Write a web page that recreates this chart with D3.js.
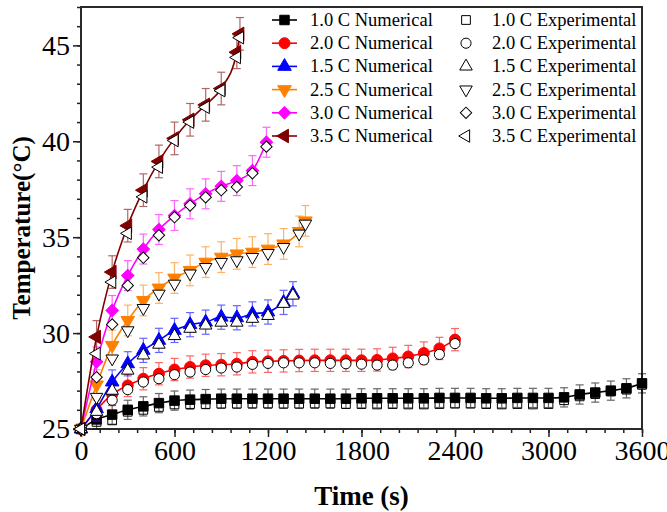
<!DOCTYPE html>
<html>
<head>
<meta charset="utf-8">
<script src="https://cdn.jsdelivr.net/npm/d3@7"></script>
<style>
	body { margin: 0; background: #fff; }
	svg { display: block; font-family: 'Liberation Serif', 'Times New Roman', serif; }
	.axis_title { font-weight: bold; fill: #000; }
	.legend_label { font-size: 18.5px; fill: #000; }
</style>
</head>
<body>
<svg id="chart" width="667" height="512"></svg>
<script>
// C-rates in legend order
const seriesNames = ['1.0 C', '2.0 C', '1.5 C', '2.5 C', '3.0 C', '3.5 C'];
const seriesColors = ['#000000', '#ff0000', '#0000ff', '#ff8000', '#ff00ff', '#800000'];
const seriesSymbols = ['square', 'circle', 'triangleUp', 'triangleDown', 'diamond', 'triangleLeft'];

// time stamps (s) per series
const time10 = [0, 100, 200, 300, 400, 500, 600, 700, 800, 900, 1000, 1100, 1200, 1300, 1400, 1500, 1600, 1700, 1800, 1900, 2000, 2100, 2200, 2300, 2400, 2500, 2600, 2700, 2800, 2900, 3000, 3100, 3200, 3300, 3400, 3500, 3600];
const time20 = [0, 100, 200, 300, 400, 500, 600, 700, 800, 900, 1000, 1100, 1200, 1300, 1400, 1500, 1600, 1700, 1800, 1900, 2000, 2100, 2200, 2300, 2400];
const time15 = [0, 100, 200, 300, 400, 500, 600, 700, 800, 900, 1000, 1100, 1200, 1300, 1360];
const time25 = [0, 100, 200, 300, 400, 500, 600, 700, 800, 900, 1000, 1100, 1200, 1300, 1400, 1440];
const time30 = [0, 100, 200, 300, 400, 500, 600, 700, 800, 900, 1000, 1100, 1190];
const time35 = [0, 100, 200, 300, 400, 500, 600, 700, 800, 900, 1000, 1020];

// numerical temperatures (°C)
const num10 = [25.0, 25.5, 25.75, 26.0, 26.18, 26.35, 26.48, 26.53, 26.56, 26.58, 26.58, 26.58, 26.58, 26.58, 26.58, 26.58, 26.58, 26.58, 26.6, 26.6, 26.6, 26.6, 26.6, 26.62, 26.62, 26.62, 26.6, 26.6, 26.62, 26.62, 26.62, 26.65, 26.8, 26.9, 27.0, 27.12, 27.38];
const num20 = [25.0, 26.0, 26.8, 27.27, 27.62, 27.88, 28.1, 28.23, 28.32, 28.35, 28.4, 28.5, 28.53, 28.55, 28.57, 28.58, 28.58, 28.58, 28.58, 28.6, 28.68, 28.78, 28.96, 29.2, 29.66];
const num15 = [25.0, 26.06, 27.45, 28.4, 29.1, 29.62, 30.14, 30.44, 30.57, 30.83, 30.8, 31.0, 31.1, 31.6, 32.05];
const num25 = [25.0, 27.3, 29.36, 30.66, 31.7, 32.35, 32.87, 33.27, 33.7, 33.96, 34.13, 34.22, 34.38, 34.65, 35.3, 35.85];
const num30 = [25.0, 28.5, 31.18, 33.0, 34.38, 35.4, 36.13, 36.74, 37.26, 37.65, 37.95, 38.47, 39.95];
const num35 = [25.0, 29.8, 33.18, 35.6, 37.45, 38.95, 40.15, 41.12, 41.9, 42.75, 44.64, 45.6];

// experimental temperatures (°C)
const exp10 = [25.0, 25.37, 25.45, 25.9, 26.0, 26.15, 26.28, 26.3, 26.3, 26.32, 26.32, 26.33, 26.33, 26.32, 26.32, 26.33, 26.33, 26.3, 26.3, 26.28, 26.3, 26.28, 26.28, 26.3, 26.32, 26.32, 26.3, 26.28, 26.3, 26.28, 26.3, 26.5, 26.7, 26.82, 26.95, 27.05, 27.3];
const exp20 = [25.0, 25.8, 26.5, 27.05, 27.45, 27.62, 27.83, 27.97, 28.1, 28.18, 28.23, 28.37, 28.42, 28.45, 28.45, 28.45, 28.42, 28.4, 28.38, 28.33, 28.33, 28.45, 28.6, 28.89, 29.45];
const exp15 = [25.0, 25.9, 27.0, 28.05, 28.84, 29.4, 29.85, 30.23, 30.4, 30.55, 30.55, 30.75, 30.9, 31.53, 31.96];
const exp25 = [25.0, 26.67, 28.67, 30.14, 31.3, 32.05, 32.57, 33.1, 33.44, 33.7, 33.79, 33.96, 34.17, 34.48, 35.18, 35.7];
const exp30 = [25.0, 27.7, 30.45, 32.48, 33.93, 35.1, 36.04, 36.65, 37.08, 37.45, 37.62, 38.33, 39.72];
const exp35 = [25.0, 28.93, 32.66, 35.2, 37.1, 38.65, 40.04, 41.0, 41.77, 42.64, 44.37, 45.4];

// error bar half height (°C) per series
const errBars = [0.5, 0.58, 0.63, 0.8, 0.78, 0.85];

const xTicks = [0, 600, 1200, 1800, 2400, 3000, 3600];
const yTicks = [25, 30, 35, 40, 45];

const times = [time10, time20, time15, time25, time30, time35];
const nums = [num10, num20, num15, num25, num30, num35];
const exps = [exp10, exp20, exp15, exp25, exp30, exp35];

const series = seriesNames.map((name, i) => ({
	name: name,
	color: seriesColors[i],
	symbol: seriesSymbols[i],
	err: errBars[i],
	num: times[i].map((t, j) => ({t: t, v: nums[i][j]})),
	exp: times[i].map((t, j) => ({t: t, v: exps[i][j]}))
}));

const svg = d3.select('#chart');
const frame = {l: 81, r: 642, t: 7, b: 429};

const xScale = d3.scaleLinear()
	.domain([0, 3600])
	.range([frame.l, frame.r]);
const yScale = d3.scaleLinear()
	.domain([25, 47])
	.range([frame.b, frame.t]);

// symbol helpers
function symbolPath(kind, size) {
	const sym = d3.symbol().size(size);
	if (kind == 'square') return sym.type(d3.symbolSquare)();
	if (kind == 'circle') return sym.type(d3.symbolCircle)();
	if (kind == 'diamond') return sym.type(d3.symbolSquare).size(size * 0.8)();
	return sym.type(d3.symbolTriangle)();
}
function symbolRotate(kind) {
	if (kind == 'triangleDown') return 180;
	if (kind == 'triangleLeft') return -90;
	if (kind == 'diamond') return 45;
	return 0;
}
function symbolSize(kind) {
	if (kind == 'square') return 90;
	if (kind == 'circle') return 95;
	if (kind == 'diamond') return 95;
	return 80;
}

// axes
const gXMinor = svg.append('g')
	.attr('transform', 'translate(0,' + frame.b + ')')
	.call(d3.axisBottom(xScale).tickValues(d3.range(0, 3601, 120)).tickSize(4).tickFormat(''));
const gX = svg.append('g')
	.attr('transform', 'translate(0,' + frame.b + ')')
	.call(d3.axisBottom(xScale).tickValues(xTicks).tickSize(8).tickPadding(3).tickFormat(d3.format('d')));
const gYMinor = svg.append('g')
	.attr('transform', 'translate(' + frame.l + ',0)')
	.call(d3.axisLeft(yScale).tickValues(d3.range(25, 47.5, 1)).tickSize(4).tickFormat(''));
const gY = svg.append('g')
	.attr('transform', 'translate(' + frame.l + ',0)')
	.call(d3.axisLeft(yScale).tickValues(yTicks).tickSize(8).tickPadding(3).tickFormat(d3.format('d')));

[gXMinor, gX, gYMinor, gY].forEach(g => {
	g.attr('font-family', null).attr('font-size', null);
	g.select('.domain').remove();
	g.selectAll('.tick line')
		.attr('stroke', '#222')
		.attr('stroke-width', 1.5);
	g.selectAll('.tick text')
		.style('font-family', "'Liberation Serif', 'Times New Roman', serif")
		.style('font-size', '28px')
		.style('fill', '#000');
});

svg.append('rect')
	.attr('x', frame.l)
	.attr('y', frame.t)
	.attr('width', frame.r - frame.l)
	.attr('height', frame.b - frame.t)
	.style('fill', 'none')
	.style('stroke', '#2a2a2a')
	.style('stroke-width', 2);

// axis titles
svg.append('text')
	.attr('class', 'axis_title')
	.attr('x', (frame.l + frame.r) / 2)
	.attr('y', 505)
	.attr('text-anchor', 'middle')
	.style('font-size', '27px')
	.text('Time (s)');

svg.append('text')
	.attr('class', 'axis_title')
	.attr('transform', 'translate(30,' + ((frame.t + frame.b) / 2 + 10) + ') rotate(-90)')
	.attr('text-anchor', 'middle')
	.style('font-size', '25px')
	.text('Temperature(°C)');

// data
const line = d3.line()
	.x(d => xScale(d.t))
	.y(d => yScale(d.v))
	.curve(d3.curveMonotoneX);

const gData = svg.append('g').attr('class', 'g_data');

function drawExp(g, s) {
	g.selectAll(null)
		.data(s.exp).enter()
		.append('path')
		.attr('class', 'exp_marker')
		.attr('d', symbolPath(s.symbol, symbolSize(s.symbol) * 0.85))
		.attr('transform', d => 'translate(' + xScale(d.t) + ',' + yScale(d.v) + ') rotate(' + symbolRotate(s.symbol) + ')')
		.style('fill', '#fff')
		.style('stroke', '#000')
		.style('stroke-width', 1);
}

series.forEach((s, i) => {
	const gS = gData.append('g').attr('class', 'g_series');

	// the 1.0 C experimental squares sit under their numerical markers
	if (i == 0) drawExp(gS, s);

	gS.append('path')
		.attr('d', line(s.num))
		.style('fill', 'none')
		.style('stroke', s.color)
		.style('stroke-width', 1.6);

	const gErr = gS.selectAll('.err_bar')
		.data(s.num.filter(d => d.t > 0)).enter()
		.append('g')
		.attr('class', 'err_bar')
		.style('stroke', s.color)
		.style('stroke-width', 1.2)
		.style('opacity', 0.6);
	gErr.append('line')
		.attr('x1', d => xScale(d.t))
		.attr('x2', d => xScale(d.t))
		.attr('y1', d => yScale(d.v - s.err))
		.attr('y2', d => yScale(d.v + s.err));
	gErr.append('line')
		.attr('x1', d => xScale(d.t) - 4)
		.attr('x2', d => xScale(d.t) + 4)
		.attr('y1', d => yScale(d.v + s.err))
		.attr('y2', d => yScale(d.v + s.err));
	gErr.append('line')
		.attr('x1', d => xScale(d.t) - 4)
		.attr('x2', d => xScale(d.t) + 4)
		.attr('y1', d => yScale(d.v - s.err))
		.attr('y2', d => yScale(d.v - s.err));

	gS.selectAll('.num_marker')
		.data(s.num).enter()
		.append('path')
		.attr('class', 'num_marker')
		.attr('d', symbolPath(s.symbol, symbolSize(s.symbol)))
		.attr('transform', d => 'translate(' + xScale(d.t) + ',' + yScale(d.v) + ') rotate(' + symbolRotate(s.symbol) + ')')
		.style('fill', s.color)
		.style('stroke', s.color)
		.style('stroke-width', 1);
});

series.forEach((s, i) => {
	if (i > 0) drawExp(gData, s);
});

// legend
const legendRowY = d3.scalePoint()
	.domain(seriesNames)
	.range([20, 136]);

const gLegend = svg.append('g').attr('class', 'g_legend');
series.forEach(s => {
	const ly = legendRowY(s.name);
	gLegend.append('line')
		.attr('x1', 272)
		.attr('x2', 297)
		.attr('y1', ly)
		.attr('y2', ly)
		.style('stroke', s.color)
		.style('stroke-width', 1.6);
	gLegend.append('path')
		.attr('d', symbolPath(s.symbol, symbolSize(s.symbol)))
		.attr('transform', 'translate(284.5,' + ly + ') rotate(' + symbolRotate(s.symbol) + ')')
		.style('fill', s.color)
		.style('stroke', s.color);
	gLegend.append('text')
		.attr('class', 'legend_label')
		.attr('x', 310)
		.attr('y', ly + 6)
		.text(s.name + ' Numerical');
	gLegend.append('path')
		.attr('d', symbolPath(s.symbol, symbolSize(s.symbol) * 0.85))
		.attr('transform', 'translate(466,' + ly + ') rotate(' + symbolRotate(s.symbol) + ')')
		.style('fill', '#fff')
		.style('stroke', '#000');
	gLegend.append('text')
		.attr('class', 'legend_label')
		.attr('x', 492)
		.attr('y', ly + 6)
		.text(s.name + ' Experimental');
});
</script>
</body>
</html>
